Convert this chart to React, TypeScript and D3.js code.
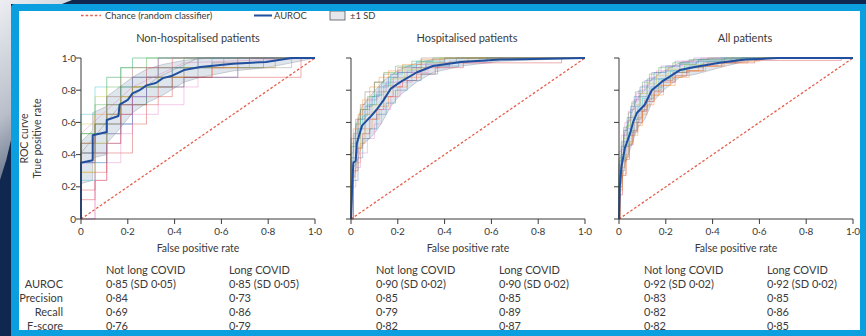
import React from "react";
import * as d3 from "d3";

type Pt = [number, number];

const W = 866;
const H = 336;
const FONT = "Lato, 'Open Sans', sans-serif";
const INK = "#3a3a3a";

const tickValues = [0, 0.2, 0.4, 0.6, 0.8, 1];
const tickLabels = ["0", "0·2", "0·4", "0·6", "0·8", "1·0"];

const panelTitles = ["Non-hospitalised patients", "Hospitalised patients", "All patients"];
const metricNames = ["AUROC", "Precision", "Recall", "F-score"];
const columnHeaders = ["Not long COVID", "Long COVID"];

const nonHospNotLong = ["0·85 (SD 0·05)", "0·84", "0·69", "0·76"];
const nonHospLong = ["0·85 (SD 0·05)", "0·73", "0·86", "0·79"];
const hospNotLong = ["0·90 (SD 0·02)", "0·85", "0·79", "0·82"];
const hospLong = ["0·90 (SD 0·02)", "0·85", "0·89", "0·87"];
const allNotLong = ["0·92 (SD 0·02)", "0·83", "0·82", "0·82"];
const allLong = ["0·92 (SD 0·02)", "0·85", "0·86", "0·85"];

const foldColors = ["#1f77b4", "#ff7f0e", "#2ca02c", "#d62728", "#9467bd", "#8c564b", "#e377c2", "#7f7f7f", "#bcbd22", "#17becf"];

// ---- non-hospitalised ----
const nonHospMean: Pt[] = [[0, 0], [0, 0.35], [0.05, 0.365], [0.05, 0.52], [0.11, 0.54], [0.11, 0.615], [0.16, 0.64], [0.165, 0.71], [0.2, 0.74], [0.22, 0.78], [0.25, 0.8], [0.28, 0.83], [0.32, 0.845], [0.35, 0.875], [0.39, 0.89], [0.44, 0.925], [0.51, 0.944], [0.65, 0.965], [0.79, 0.975], [0.9, 1], [1, 1]];
const nonHospUpper: Pt[] = [[0, 0.48], [0.05, 0.55], [0.05, 0.66], [0.11, 0.7], [0.11, 0.76], [0.165, 0.82], [0.22, 0.88], [0.28, 0.93], [0.35, 0.96], [0.44, 0.985], [0.55, 1], [1, 1]];
const nonHospLower: Pt[] = [[0, 0.22], [0.05, 0.24], [0.05, 0.38], [0.11, 0.4], [0.11, 0.47], [0.165, 0.56], [0.22, 0.66], [0.28, 0.72], [0.35, 0.77], [0.44, 0.85], [0.51, 0.88], [0.65, 0.92], [0.79, 0.94], [0.9, 0.97], [1, 1]];
const nonHospFolds: Pt[][] = [
  [[0, 0], [0, 0.41], [0.06, 0.53], [0.11, 0.65], [0.17, 0.82], [0.22, 0.88], [0.33, 0.94], [0.5, 1], [1, 1]],
  [[0, 0], [0, 0.29], [0.06, 0.41], [0.11, 0.59], [0.17, 0.71], [0.28, 0.82], [0.39, 0.88], [0.56, 0.94], [0.72, 1], [1, 1]],
  [[0, 0], [0, 0.53], [0.06, 0.71], [0.11, 0.82], [0.17, 0.94], [0.28, 1], [1, 1]],
  [[0, 0], [0, 0.18], [0.06, 0.29], [0.11, 0.41], [0.22, 0.59], [0.28, 0.76], [0.39, 0.82], [0.44, 0.88], [0.89, 0.88], [0.94, 1], [1, 1]],
  [[0, 0], [0, 0.35], [0.11, 0.47], [0.17, 0.65], [0.22, 0.76], [0.28, 0.88], [0.39, 0.94], [0.61, 1], [1, 1]],
  [[0, 0], [0, 0.47], [0.06, 0.59], [0.11, 0.76], [0.17, 0.88], [0.22, 0.94], [0.33, 1], [1, 1]],
  [[0, 0], [0.06, 0.24], [0.11, 0.35], [0.17, 0.53], [0.22, 0.65], [0.33, 0.71], [0.44, 0.82], [0.5, 0.88], [0.67, 0.94], [0.83, 1], [1, 1]],
  [[0, 0], [0, 0.41], [0.06, 0.47], [0.11, 0.53], [0.17, 0.71], [0.28, 0.82], [0.33, 0.88], [0.5, 0.94], [0.9, 1], [1, 1]],
  [[0, 0], [0, 0.59], [0.06, 0.76], [0.11, 0.88], [0.17, 0.94], [0.22, 1], [1, 1]],
  [[0, 0], [0, 0.24], [0.06, 0.35], [0.11, 0.53], [0.17, 0.59], [0.22, 0.71], [0.28, 0.82], [0.39, 0.94], [0.56, 1], [1, 1]],
  [[0, 0], [0, 0.35], [0.06, 0.41], [0.11, 0.59], [0.22, 0.76], [0.28, 0.82], [0.44, 0.88], [0.67, 0.94], [0.78, 1], [1, 1]],
  [[0, 0], [0, 0.47], [0.06, 0.65], [0.17, 0.76], [0.22, 0.82], [0.28, 0.94], [0.39, 1], [1, 1]],
  [[0, 0], [0, 0.53], [0.06, 0.59], [0.11, 0.71], [0.17, 0.82], [0.28, 0.88], [0.33, 0.94], [0.44, 1], [1, 1]],
  [[0, 0], [0, 0.12], [0.06, 0.24], [0.11, 0.47], [0.17, 0.65], [0.22, 0.71], [0.33, 0.82], [0.39, 0.88], [0.56, 0.94], [0.67, 1], [1, 1]],
  [[0, 0], [0, 0.35], [0.06, 0.53], [0.11, 0.65], [0.17, 0.71], [0.22, 0.88], [0.28, 0.94], [0.33, 1], [1, 1]],
  [[0, 0], [0, 0.41], [0.06, 0.59], [0.11, 0.71], [0.22, 0.82], [0.28, 0.88], [0.44, 0.94], [0.56, 0.97], [0.72, 1], [1, 1]],
  [[0, 0], [0.06, 0.41], [0.11, 0.53], [0.17, 0.59], [0.22, 0.76], [0.28, 0.88], [0.33, 0.94], [0.39, 1], [1, 1]],
  [[0, 0], [0, 0.47], [0.06, 0.53], [0.11, 0.59], [0.17, 0.76], [0.22, 0.88], [0.39, 0.94], [0.5, 1], [1, 1]],
  [[0, 0], [0, 0.29], [0.06, 0.47], [0.11, 0.65], [0.17, 0.76], [0.22, 0.82], [0.33, 0.88], [0.44, 0.94], [0.83, 1], [1, 1]],
  [[0, 0], [0, 0.65], [0.06, 0.82], [0.11, 0.88], [0.17, 0.94], [0.22, 1], [1, 1]],
];
const nonHospDiagFolds: Pt[][] = [
  [[0, 0], [0, 0.53], [0.22, 0.82], [0.44, 0.97], [1, 1]],
  [[0, 0], [0, 0.41], [0.17, 0.71], [0.33, 0.88], [0.5, 1], [1, 1]],
];

// ---- hospitalised ----
const hospMean: Pt[] = [[0, 0], [0.005, 0.2], [0.01, 0.35], [0.02, 0.36], [0.025, 0.47], [0.035, 0.52], [0.047, 0.58], [0.06, 0.6], [0.08, 0.63], [0.11, 0.68], [0.14, 0.74], [0.17, 0.81], [0.21, 0.85], [0.28, 0.91], [0.35, 0.95], [0.47, 0.975], [0.64, 0.99], [1, 1]];
const hospUpper: Pt[] = [[0, 0.1], [0.01, 0.47], [0.025, 0.6], [0.047, 0.7], [0.08, 0.76], [0.11, 0.81], [0.14, 0.86], [0.21, 0.93], [0.28, 0.97], [0.35, 0.99], [0.47, 1], [1, 1]];
const hospLower: Pt[] = [[0, 0], [0.01, 0.23], [0.025, 0.35], [0.047, 0.46], [0.08, 0.5], [0.11, 0.55], [0.14, 0.62], [0.17, 0.7], [0.21, 0.77], [0.28, 0.85], [0.35, 0.91], [0.47, 0.95], [0.64, 0.98], [1, 1]];
const hospFolds: Pt[][] = [
  [[0, 0], [0, 0.38], [0.02, 0.5], [0.04, 0.62], [0.06, 0.7], [0.09, 0.76], [0.12, 0.82], [0.16, 0.88], [0.2, 0.91], [0.26, 0.94], [0.32, 0.97], [0.45, 1], [1, 1]],
  [[0, 0], [0, 0.26], [0.02, 0.35], [0.04, 0.47], [0.06, 0.56], [0.09, 0.62], [0.12, 0.7], [0.16, 0.76], [0.2, 0.82], [0.24, 0.88], [0.3, 0.94], [0.38, 0.97], [0.5, 1], [1, 1]],
  [[0, 0], [0, 0.45], [0.02, 0.59], [0.04, 0.68], [0.07, 0.76], [0.1, 0.85], [0.14, 0.91], [0.19, 0.95], [0.26, 0.98], [0.35, 1], [1, 1]],
  [[0, 0], [0.01, 0.3], [0.03, 0.44], [0.05, 0.53], [0.08, 0.62], [0.11, 0.68], [0.14, 0.76], [0.18, 0.82], [0.22, 0.86], [0.28, 0.9], [0.36, 0.94], [0.48, 0.97], [0.88, 0.97], [0.9, 1], [1, 1]],
  [[0, 0], [0, 0.33], [0.02, 0.41], [0.03, 0.56], [0.06, 0.65], [0.08, 0.74], [0.11, 0.79], [0.15, 0.85], [0.2, 0.91], [0.28, 0.96], [0.4, 1], [1, 1]],
  [[0, 0], [0, 0.5], [0.02, 0.62], [0.04, 0.71], [0.06, 0.79], [0.1, 0.85], [0.14, 0.9], [0.2, 0.94], [0.3, 1], [1, 1]],
  [[0, 0], [0.01, 0.2], [0.02, 0.32], [0.04, 0.41], [0.07, 0.5], [0.1, 0.59], [0.13, 0.68], [0.17, 0.76], [0.21, 0.85], [0.26, 0.91], [0.33, 0.94], [0.42, 0.97], [0.6, 1], [1, 1]],
  [[0, 0], [0, 0.41], [0.01, 0.53], [0.03, 0.62], [0.05, 0.68], [0.08, 0.71], [0.11, 0.77], [0.14, 0.83], [0.18, 0.88], [0.24, 0.92], [0.32, 0.95], [0.42, 0.98], [0.55, 1], [1, 1]],
  [[0, 0], [0, 0.29], [0.02, 0.44], [0.04, 0.53], [0.06, 0.65], [0.09, 0.71], [0.13, 0.79], [0.17, 0.87], [0.23, 0.93], [0.3, 0.97], [0.38, 1], [1, 1]],
  [[0, 0], [0, 0.36], [0.01, 0.47], [0.03, 0.56], [0.05, 0.64], [0.07, 0.71], [0.1, 0.77], [0.13, 0.84], [0.17, 0.9], [0.22, 0.95], [0.28, 0.98], [0.4, 1], [1, 1]],
  [[0, 0], [0.01, 0.24], [0.03, 0.38], [0.05, 0.5], [0.08, 0.56], [0.11, 0.65], [0.15, 0.72], [0.19, 0.8], [0.24, 0.86], [0.3, 0.9], [0.37, 0.95], [0.46, 0.98], [0.58, 1], [1, 1]],
  [[0, 0], [0, 0.47], [0.01, 0.56], [0.03, 0.65], [0.05, 0.74], [0.08, 0.82], [0.12, 0.88], [0.16, 0.92], [0.22, 0.96], [0.3, 0.99], [0.4, 1], [1, 1]],
];

// ---- all patients ----
const allMean: Pt[] = [[0, 0], [0.003, 0.19], [0.01, 0.32], [0.025, 0.44], [0.047, 0.53], [0.06, 0.6], [0.077, 0.66], [0.11, 0.71], [0.12, 0.74], [0.14, 0.8], [0.19, 0.86], [0.26, 0.925], [0.33, 0.945], [0.43, 0.97], [0.54, 0.99], [0.68, 1], [1, 1]];
const allUpper: Pt[] = [[0, 0.1], [0.01, 0.42], [0.025, 0.54], [0.047, 0.63], [0.077, 0.75], [0.11, 0.8], [0.14, 0.87], [0.19, 0.92], [0.26, 0.97], [0.33, 0.99], [0.43, 1], [1, 1]];
const allLower: Pt[] = [[0, 0], [0.01, 0.22], [0.025, 0.34], [0.047, 0.43], [0.077, 0.56], [0.11, 0.62], [0.14, 0.72], [0.19, 0.8], [0.26, 0.88], [0.33, 0.9], [0.43, 0.94], [0.54, 0.98], [0.68, 1], [1, 1]];
const allFolds: Pt[][] = [
  [[0, 0], [0, 0.3], [0.01, 0.4], [0.02, 0.48], [0.035, 0.56], [0.05, 0.63], [0.07, 0.7], [0.09, 0.76], [0.12, 0.82], [0.15, 0.87], [0.2, 0.92], [0.26, 0.96], [0.33, 0.98], [0.45, 1], [1, 1]],
  [[0, 0], [0, 0.22], [0.01, 0.32], [0.025, 0.4], [0.04, 0.48], [0.06, 0.55], [0.08, 0.63], [0.1, 0.7], [0.13, 0.77], [0.17, 0.83], [0.22, 0.88], [0.27, 0.92], [0.34, 0.95], [0.42, 0.97], [0.55, 1], [1, 1]],
  [[0, 0], [0, 0.38], [0.01, 0.48], [0.02, 0.57], [0.04, 0.66], [0.055, 0.72], [0.07, 0.79], [0.1, 0.85], [0.13, 0.9], [0.17, 0.94], [0.23, 0.97], [0.3, 0.99], [0.38, 1], [1, 1]],
  [[0, 0], [0.005, 0.15], [0.015, 0.27], [0.03, 0.37], [0.045, 0.46], [0.06, 0.54], [0.08, 0.6], [0.1, 0.67], [0.12, 0.73], [0.15, 0.79], [0.19, 0.85], [0.24, 0.89], [0.29, 0.92], [0.36, 0.95], [0.44, 0.97], [0.58, 0.985], [0.93, 0.985], [0.95, 1], [1, 1]],
  [[0, 0], [0, 0.34], [0.01, 0.43], [0.02, 0.52], [0.035, 0.61], [0.05, 0.68], [0.065, 0.74], [0.085, 0.8], [0.11, 0.86], [0.14, 0.91], [0.18, 0.95], [0.24, 0.98], [0.32, 1], [1, 1]],
  [[0, 0], [0, 0.26], [0.015, 0.36], [0.03, 0.45], [0.045, 0.52], [0.065, 0.6], [0.085, 0.67], [0.11, 0.74], [0.14, 0.8], [0.18, 0.86], [0.23, 0.91], [0.29, 0.94], [0.36, 0.97], [0.5, 0.99], [0.62, 1], [1, 1]],
  [[0, 0], [0, 0.42], [0.01, 0.52], [0.025, 0.6], [0.04, 0.67], [0.055, 0.73], [0.075, 0.78], [0.1, 0.83], [0.13, 0.88], [0.16, 0.92], [0.21, 0.95], [0.27, 0.98], [0.35, 1], [1, 1]],
  [[0, 0], [0.005, 0.2], [0.015, 0.3], [0.025, 0.38], [0.04, 0.46], [0.055, 0.55], [0.075, 0.62], [0.095, 0.68], [0.12, 0.75], [0.15, 0.82], [0.19, 0.87], [0.24, 0.91], [0.3, 0.95], [0.38, 0.98], [0.48, 1], [1, 1]],
  [[0, 0], [0, 0.33], [0.01, 0.41], [0.02, 0.5], [0.035, 0.58], [0.05, 0.64], [0.07, 0.71], [0.09, 0.78], [0.12, 0.84], [0.16, 0.89], [0.21, 0.93], [0.28, 0.96], [0.36, 0.99], [0.46, 1], [1, 1]],
  [[0, 0], [0, 0.28], [0.01, 0.37], [0.025, 0.46], [0.04, 0.54], [0.06, 0.62], [0.08, 0.69], [0.1, 0.75], [0.13, 0.81], [0.17, 0.87], [0.22, 0.92], [0.28, 0.95], [0.35, 0.98], [0.44, 1], [1, 1]],
  [[0, 0], [0, 0.36], [0.01, 0.45], [0.02, 0.55], [0.035, 0.63], [0.05, 0.7], [0.065, 0.76], [0.09, 0.82], [0.12, 0.87], [0.15, 0.91], [0.2, 0.95], [0.26, 0.97], [0.34, 0.99], [0.52, 1], [1, 1]],
  [[0, 0], [0.005, 0.18], [0.015, 0.28], [0.03, 0.39], [0.045, 0.47], [0.06, 0.52], [0.08, 0.58], [0.1, 0.65], [0.12, 0.71], [0.15, 0.77], [0.19, 0.83], [0.24, 0.88], [0.3, 0.92], [0.37, 0.95], [0.45, 0.98], [0.6, 1], [1, 1]],
];

const panels = [
  { title: panelTitles[0], mean: nonHospMean, upper: nonHospUpper, lower: nonHospLower, folds: nonHospFolds, diag: nonHospDiagFolds, cols: [nonHospNotLong, nonHospLong] },
  { title: panelTitles[1], mean: hospMean, upper: hospUpper, lower: hospLower, folds: hospFolds, diag: [] as Pt[][], cols: [hospNotLong, hospLong] },
  { title: panelTitles[2], mean: allMean, upper: allUpper, lower: allLower, folds: allFolds, diag: [] as Pt[][], cols: [allNotLong, allLong] },
];

const panelLeft = [81, 351, 619];
const panelW = 234;
const plotTop = 58;
const plotBottom = 219;
const titleX = [198, 467, 745];
const rowY = [287.5, 301.5, 315.5, 329.5];

function Panel({ p, i }: { p: (typeof panels)[number]; i: number }) {
  const x0 = panelLeft[i];
  const x = d3.scaleLinear().domain([0, 1]).range([x0, x0 + panelW]);
  const y = d3.scaleLinear().domain([0, 1]).range([plotBottom, plotTop]);
  const step = d3.line<Pt>().x((d) => x(d[0])).y((d) => y(d[1])).curve(d3.curveStepAfter);
  const lin = d3.line<Pt>().x((d) => x(d[0])).y((d) => y(d[1]));
  const band = lin([...p.upper, ...p.lower.slice().reverse()]) + "Z";

  return (
    <g>
      <text x={titleX[i]} y={42} textAnchor="middle" fontSize={11} fill={INK}>{p.title}</text>
      <path d={band} fill="#c9d3df" fillOpacity={0.6} stroke="#9aa3ad" strokeWidth={0.5} />
      {p.folds.map((f, k) => (
        <path key={k} d={step(f) || ""} fill="none" stroke={foldColors[k % foldColors.length]} strokeOpacity={0.38} strokeWidth={1} />
      ))}
      {p.diag.map((f, k) => (
        <path key={"d" + k} d={lin(f) || ""} fill="none" stroke={foldColors[(k + 6) % foldColors.length]} strokeOpacity={0.38} strokeWidth={1} />
      ))}
      <line x1={x(0)} y1={y(0)} x2={x(1)} y2={y(1)} stroke="#e5604e" strokeWidth={1.3} strokeDasharray="2.6,2" />
      <path d={lin(p.mean) || ""} fill="none" stroke="#1f4f9e" strokeWidth={2} strokeLinejoin="round" />
      {/* axes */}
      <line x1={x0} x2={x0} y1={plotTop} y2={plotBottom} stroke={INK} strokeWidth={1} />
      <line x1={x0} x2={x0 + panelW} y1={plotBottom} y2={plotBottom} stroke={INK} strokeWidth={1} />
      {tickValues.map((t, k) => (
        <g key={"y" + k}>
          <line x1={x0 - 5} x2={x0} y1={y(t)} y2={y(t)} stroke={INK} strokeWidth={1} />
          {i === 0 && (
            <text x={x0 - 5} y={y(t)} dy="0.35em" textAnchor="end" fontSize={10} fill={INK}>{tickLabels[k]}</text>
          )}
        </g>
      ))}
      {tickValues.map((t, k) => (
        <g key={"x" + k}>
          <line x1={x(t)} x2={x(t)} y1={plotBottom} y2={plotBottom + 5} stroke={INK} strokeWidth={1} />
          <text x={x(t)} y={235} textAnchor="middle" fontSize={10} fill={INK}>{tickLabels[k]}</text>
        </g>
      ))}
      <text x={x(0.5)} y={252} textAnchor="middle" fontSize={10.5} fill={INK}>False positive rate</text>
      {/* metrics table */}
      {columnHeaders.map((h, c) => (
        <text key={"h" + c} x={x0 + (c === 0 ? 25 : 148)} y={274} fontSize={11} fill={INK}>{h}</text>
      ))}
      {p.cols.map((col, c) =>
        col.map((v, r) => (
          <text key={c + "-" + r} x={x0 + (c === 0 ? 25 : 148)} y={rowY[r]} fontSize={11} fill={INK}>{v}</text>
        ))
      )}
    </g>
  );
}

export default function App() {
  return (
    <>
      <style>{`body{margin:0;}`}</style>
      <svg width={W} height={H} style={{ display: "block", fontFamily: FONT }}>
        <defs>
          <linearGradient id="swoosh" x1="0" y1="0" x2="0.3" y2="1">
            <stop offset="0" stopColor="#eceef2" />
            <stop offset="0.6" stopColor="#b9bfca" />
            <stop offset="1" stopColor="#5d6a82" />
          </linearGradient>
          <clipPath id="paper">
            <rect x={19} y={11} width={841} height={319} />
          </clipPath>
        </defs>
        <rect width={W} height={H} fill="#10284f" />
        <path d="M0,0 L72,0 L62,4 L11,4 L11,140 Q7,160 0,180 Z" fill="url(#swoosh)" />
        <path d="M11,8 Q11,4 15,4 L866,4 L866,336 L11,336 Z" fill="#0b9fdf" />
        <rect x={19} y={11} width={841} height={319} fill="#ffffff" />
        <g clipPath="url(#paper)">
          {/* legend */}
          <line x1={81} x2={101} y1={15.5} y2={15.5} stroke="#e5604e" strokeWidth={1.3} strokeDasharray="2.6,2" />
          <text x={105} y={19} fontSize={9.4} fill={INK}>Chance (random classifier)</text>
          <line x1={254} x2={272} y1={15.5} y2={15.5} stroke="#1f4f9e" strokeWidth={2} />
          <text x={274} y={19} fontSize={9.4} fill={INK}>AUROC</text>
          <rect x={330} y={11} width={15} height={9} fill="#e4e7ec" stroke="#555" strokeWidth={0.8} />
          <text x={350} y={19} fontSize={9.4} fill={INK}>±1 SD</text>

          {/* y title */}
          <text transform={`translate(28,${(plotTop + plotBottom) / 2}) rotate(-90)`} textAnchor="middle" fontSize={10.5} fill={INK}>ROC curve</text>
          <text transform={`translate(41,${(plotTop + plotBottom) / 2}) rotate(-90)`} textAnchor="middle" fontSize={10.5} fill={INK}>True positive rate</text>

          {metricNames.map((m, r) => (
            <text key={m} x={63} y={rowY[r]} textAnchor="end" fontSize={11} fill={INK}>{m}</text>
          ))}

          {panels.map((p, i) => (
            <Panel key={i} p={p} i={i} />
          ))}
        </g>
      </svg>
    </>
  );
}
